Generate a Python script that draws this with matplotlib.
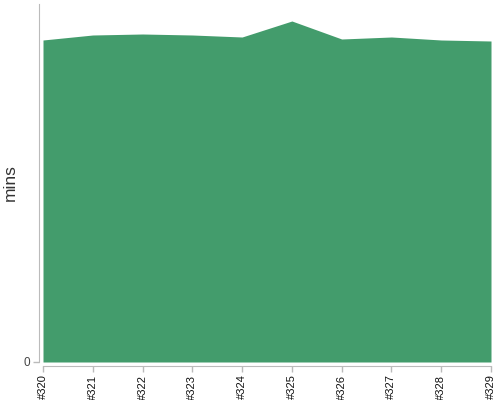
import matplotlib.pyplot as plt

# 构建编号与耗时（分钟）
builds = ['#320', '#321', '#322', '#323', '#324', '#325', '#326', '#327', '#328', '#329']
mins = [32.2, 32.7, 32.8, 32.7, 32.5, 34.1, 32.3, 32.5, 32.2, 32.1]

plt.rcParams['font.family'] = ['Liberation Sans', 'DejaVu Sans']

fig = plt.figure(figsize=(5, 4), dpi=100)
ax = fig.add_axes([43 / 500, 38 / 400, 448 / 500, 358 / 400])

x = list(range(len(builds)))
ax.fill_between(x, mins, 0, color='#439c6c', linewidth=0)

ax.set_xlim(0, len(builds) - 1)
ax.set_ylim(0, 35.8)

# 坐标轴样式
for side in ['top', 'right']:
    ax.spines[side].set_visible(False)
for side in ['left', 'bottom']:
    ax.spines[side].set_position(('outward', 3))
    ax.spines[side].set_color('#bbbbbb')
ax.tick_params(axis='both', colors='#bbbbbb', length=4, width=1)
ax.tick_params(axis='x', labelcolor='#111111', pad=2, labelrotation=90, labelsize=8)
ax.tick_params(axis='y', labelcolor='#444444', pad=2, labelsize=8.5)

ax.set_xticks(x)
ax.set_xticklabels(builds)
ax.set_yticks([0])
ax.set_yticklabels(['0'])
ax.set_ylabel('mins', fontsize=12.5, color='#333333')
ax.yaxis.set_label_coords(-25 / 448, 0.5)

plt.savefig('out.png', dpi=100)
